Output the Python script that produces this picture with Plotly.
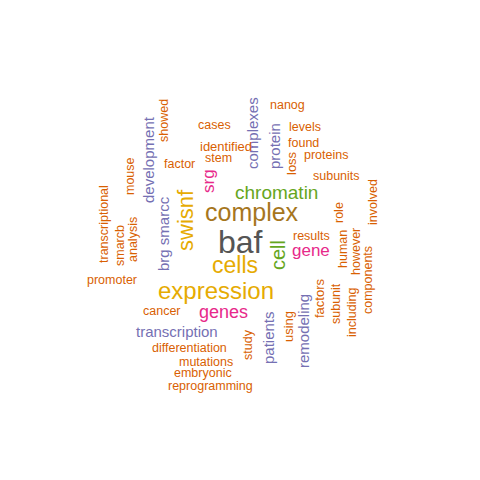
import plotly.graph_objects as go

# word cloud: words, colour group, font size, rotation and placement
words = ["baf", "complex", "cells", "expression", "swisnf", "chromatin", "cell", "gene",
         "genes", "srg", "transcription", "brg smarcc", "development", "complexes",
         "protein", "patients", "remodeling", "loss", "factors", "using",
         "nanog", "cases", "levels", "showed", "identified", "found", "proteins", "stem",
         "factor", "subunits", "mouse", "involved", "transcriptional", "smarcb",
         "analysis", "role", "results", "human", "however", "components", "subunit",
         "including", "promoter", "cancer", "differentiation", "study", "mutations",
         "embryonic", "reprogramming"]
sizes = [32, 25, 23, 24, 22, 19, 20, 17,
         18, 17, 15, 15, 15, 15,
         15, 15, 15, 13, 13, 13,
         12.5, 12.5, 12.5, 12.5, 13, 12.5, 12.5, 12.5,
         12.5, 12.5, 12.5, 12.5, 12.5, 12.5,
         12.5, 12.5, 12.5, 12.5, 12.5, 12.5, 12.5,
         12.5, 12.5, 12.5, 12.5, 12.5, 12.5,
         12.5, 12.5]
groups = ["gray", "brown", "yellow", "yellow", "yellow", "green", "green", "pink",
          "pink", "pink", "purple", "purple", "purple", "purple",
          "purple", "purple", "purple", "orange", "orange", "orange"] + ["orange"] * 29
vertical = [0, 0, 0, 0, 1, 0, 1, 0,
            0, 1, 0, 1, 1, 1,
            1, 1, 1, 1, 1, 1,
            0, 0, 0, 1, 0, 0, 0, 0,
            0, 0, 1, 1, 1, 1,
            1, 1, 0, 1, 1, 1, 1,
            1, 0, 0, 0, 1, 0,
            0, 0]
x_pos = [240, 252, 235, 216, 185, 276, 278, 311,
         223, 208, 177, 163, 148, 252,
         274, 268, 303, 291, 319, 288,
         287, 214, 305, 164, 226, 303, 326, 218,
         179, 336, 130, 373, 104, 120,
         133, 339, 311, 343, 356, 368, 336,
         352, 112, 162, 189, 248, 206,
         203, 210]
y_pos = [242, 212, 265, 290, 220, 192, 255, 250,
         312, 181, 331, 234, 160, 133,
         146, 338, 331, 163, 298, 327,
         105, 125, 127, 121, 146, 143, 155, 158,
         164, 176, 176, 202, 224, 246,
         240, 213, 236, 249, 252, 280, 304,
         313, 280, 311, 348, 345, 362,
         373, 386]

palette = {"gray": "#555555", "brown": "#A6761D", "yellow": "#E6AB02", "green": "#66A61E",
           "pink": "#E7298A", "purple": "#7570B3", "orange": "#D95F02"}

fig = go.Figure()
fig.add_trace(go.Scatter(x=[8, 488], y=[8, 488], mode="markers", marker=dict(opacity=0),
                         hoverinfo="skip", showlegend=False))
for w, s, g, v, x, y in zip(words, sizes, groups, vertical, x_pos, y_pos):
    fig.add_annotation(x=x, y=y, text=w, showarrow=False, textangle=-90 if v else 0,
                       font=dict(size=s, color=palette[g], family="Liberation Sans, Arial"))

fig.update_layout(width=480, height=480, margin=dict(l=0, r=0, t=0, b=0),
                  plot_bgcolor="white", paper_bgcolor="white",
                  xaxis=dict(range=[8, 488], visible=False),
                  yaxis=dict(range=[488, 8], visible=False))
fig.write_html("out.html")
